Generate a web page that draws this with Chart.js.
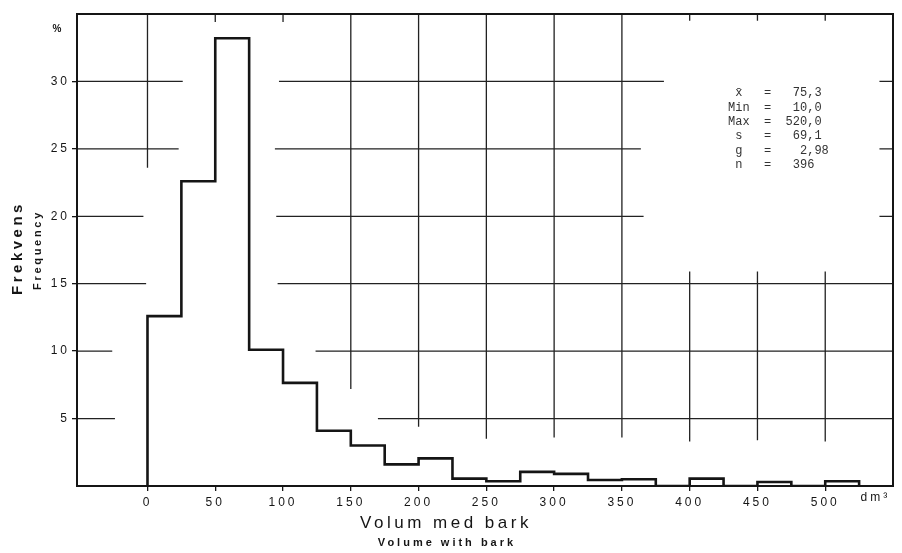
<!DOCTYPE html>
<html>
<head>
<meta charset="utf-8">
<script src="https://cdn.jsdelivr.net/npm/chart.js@4.4.1/dist/chart.umd.min.js"></script>
<style>
  html, body { margin: 0; padding: 0; background: #fff; }
  #wrap { width: 902px; height: 553px; }
</style>
</head>
<body>
<div id="wrap"><canvas id="histChart" width="902" height="553"></canvas></div>
<script>
// class starts (dm3), 25 wide
const binStart = [0, 25, 50, 75, 100, 125, 150, 175, 200, 225, 250, 275, 300, 325, 350, 375, 400, 425, 450, 475, 500];
const binWidth = 25;
// frequency in %
const freq = [12.6, 22.6, 33.2, 10.1, 7.65, 4.1, 3.0, 1.6, 2.05, 0.55, 0.35, 1.05, 0.9, 0.45, 0.5, 0, 0.55, 0, 0.3, 0, 0.35];

const xTicks = [0, 50, 100, 150, 200, 250, 300, 350, 400, 450, 500];
const yTicks = [5, 10, 15, 20, 25, 30];

const statLines = [" x\u0304   =   75,3", "Min  =   10,0", "Max  =  520,0", " s   =   69,1", " g   =    2,98", " n   =   396"];

// the partly drawn grid of the original, in data units
const hGrid = [
  [30, -52, 26], [30, 97, 381], [30, 540, 550],
  [25, -52, 23], [25, 94, 364], [25, 540, 550],
  [20, -52, -3], [20, 95, 366], [20, 540, 550],
  [15, -52, -1], [15, 96, 550],
  [10, -52, -26], [10, 124, 550],
  [5, -52, -24], [5, 170, 550]
];
const vGrid = [
  [0, 23.6, 35], [50, 34.4, 35], [100, 34.4, 35],
  [150, 7.2, 35], [200, 4.4, 35], [250, 3.5, 35], [300, 3.6, 35], [350, 3.6, 35],
  [400, 3.3, 15.9], [400, 34.5, 35],
  [450, 3.4, 15.9], [450, 34.5, 35],
  [500, 3.3, 15.9], [500, 34.5, 35]
];

// step outline: each point sits on a class's right edge with that class's value
let steps = [{x: binStart[0], y: 0}];
binStart.forEach((b, i) => {
  steps.push({x: b + binWidth, y: freq[i]});
});
steps.push({x: binStart[binStart.length - 1] + binWidth, y: 0});

const ink = "#151515";

const paperPlugin = {
  id: "paper",
  beforeDraw(chart) {
    const ctx = chart.ctx;
    ctx.save();
    ctx.fillStyle = "#fff";
    ctx.fillRect(0, 0, chart.width, chart.height);
    ctx.restore();
    ctx.letterSpacing = "3px";
  },
  beforeDatasetsDraw(chart) {
    const ctx = chart.ctx;
    const xs = chart.scales.x, ys = chart.scales.y;
    const a = chart.chartArea;
    ctx.save();
    ctx.strokeStyle = "#222";
    ctx.lineWidth = 1.3;
    ctx.beginPath();
    hGrid.forEach(([y, x0, x1]) => {
      const py = ys.getPixelForValue(y);
      ctx.moveTo(xs.getPixelForValue(x0), py);
      ctx.lineTo(xs.getPixelForValue(x1), py);
    });
    vGrid.forEach(([x, y0, y1]) => {
      const px = xs.getPixelForValue(x);
      ctx.moveTo(px, ys.getPixelForValue(y0));
      ctx.lineTo(px, ys.getPixelForValue(y1));
    });
    ctx.stroke();
    ctx.strokeStyle = ink;
    ctx.lineWidth = 2;
    ctx.strokeRect(a.left, a.top, a.right - a.left, a.bottom - a.top);
    ctx.restore();
  },
  afterDraw(chart) {
    const ctx = chart.ctx;
    const xs = chart.scales.x;
    ctx.save();

    ctx.letterSpacing = "0px";
    ctx.font = "12px 'Liberation Mono', 'DejaVu Sans Mono', monospace";
    ctx.fillStyle = "#333";
    ctx.textAlign = "left";
    ctx.textBaseline = "middle";
    statLines.forEach((s, i) => ctx.fillText(s, 728, 93 + i * 14.4));

    ctx.fillStyle = ink;
    ctx.font = "bold 10px 'Liberation Sans', Arial, sans-serif";
    ctx.textAlign = "center";
    ctx.fillText("%", 57, 29);

    ctx.letterSpacing = "3px";
    ctx.font = "12px 'Liberation Sans', Arial, sans-serif";
    ctx.textAlign = "left";
    ctx.fillText("dm\u00b3", xs.getPixelForValue(526), 498);

    ctx.textAlign = "center";
    ctx.letterSpacing = "3.5px";
    ctx.font = "17px 'Liberation Sans', Arial, sans-serif";
    ctx.fillText("Volum med bark", 446, 523);
    ctx.letterSpacing = "3px";
    ctx.font = "bold 11px 'Liberation Sans', Arial, sans-serif";
    ctx.fillText("Volume with bark", 447, 543);

    ctx.translate(18, 250);
    ctx.rotate(-Math.PI / 2);
    ctx.letterSpacing = "3.5px";
    ctx.font = "bold 15px 'Liberation Sans', Arial, sans-serif";
    ctx.fillText("Frekvens", 2, 0);
    ctx.rotate(Math.PI / 2);
    ctx.translate(20, 2);
    ctx.rotate(-Math.PI / 2);
    ctx.letterSpacing = "2.7px";
    ctx.font = "bold 11px 'Liberation Sans', Arial, sans-serif";
    ctx.fillText("Frequency", 2, 0);
    ctx.restore();
  }
};

const histChart = new Chart(document.getElementById("histChart"), {
  type: "line",
  data: {
    datasets: [{
      label: "Frekvens",
      data: steps,
      stepped: "after",
      borderColor: ink,
      borderWidth: 2.6,
      pointRadius: 0,
      fill: false,
      tension: 0
    }]
  },
  options: {
    responsive: false,
    animation: false,
    layout: { padding: { top: 14, right: 9, left: 0, bottom: 0 } },
    plugins: {
      legend: { display: false },
      tooltip: { enabled: false }
    },
    scales: {
      x: {
        type: "linear",
        min: -52,
        max: 550,
        afterBuildTicks: scale => { scale.ticks = xTicks.map(v => ({value: v})); },
        afterFit: scale => { scale.height = 67; },
        border: { display: true, color: ink, width: 2 },
        grid: { drawOnChartArea: false, drawTicks: true, tickLength: 5, color: ink, lineWidth: 1.3 },
        ticks: {
          autoSkip: false,
          maxRotation: 0,
          padding: 4,
          color: ink,
          font: { family: "'Liberation Sans', Arial, sans-serif", size: 12 }
        }
      },
      y: {
        min: 0,
        max: 35,
        afterBuildTicks: scale => { scale.ticks = yTicks.map(v => ({value: v})); },
        afterFit: scale => { scale.width = 77; },
        border: { display: true, color: ink, width: 2 },
        grid: { drawOnChartArea: false, drawTicks: true, tickLength: 5, color: ink, lineWidth: 1.3 },
        ticks: {
          padding: 2,
          color: ink,
          font: { family: "'Liberation Sans', Arial, sans-serif", size: 12 }
        }
      }
    }
  },
  plugins: [paperPlugin]
});
</script>
</body>
</html>
